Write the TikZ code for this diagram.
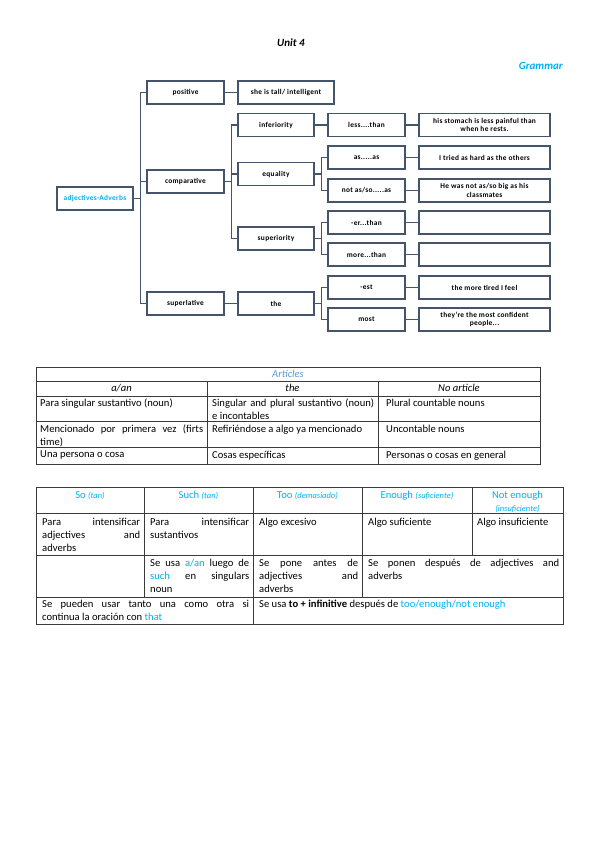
\documentclass[tikz,border=0pt]{standalone}
\usepackage{fontspec}
\setmainfont{Carlito}
\newfontfamily\sa[LetterSpace=4]{Carlito}
\definecolor{boxc}{HTML}{44546A}
\definecolor{cy}{HTML}{00B0F0}
\definecolor{ab}{HTML}{5B9BD5}
\definecolor{tline}{HTML}{3A3A3A}
\hyphenpenalty=10000
\exhyphenpenalty=10000
\begin{document}
\begin{tikzpicture}[x=1pt,y=-1pt,
  bx/.style={draw=boxc, line width=1.3pt, fill=white, minimum height=23pt, inner sep=1pt,
    align=center, font=\sa\bfseries\fontsize{7.4}{8.6}\selectfont},
  wa/.style={bx, minimum width=76pt},
  wb/.style={bx, minimum width=77pt},
  wc/.style={bx, minimum width=131pt},
  con/.style={draw=boxc, line width=1.3pt},
  tl/.style={draw=tline, line width=0.6pt},
  tx/.style={inner sep=0pt, anchor=north west, align=justify,
    font=\fontsize{10.6}{13}\selectfont},
  th/.style={inner sep=0pt, anchor=north, align=center, font=\fontsize{10.6}{12.5}\selectfont}
]
\useasboundingbox (0,0) rectangle (599,848);

% titles
\node[font=\fontsize{11}{13}\selectfont\bfseries\itshape] (unit) at (291,43) {Unit 4};
\node[anchor=east, inner sep=0pt, text=cy, font=\fontsize{11}{13}\selectfont\bfseries\itshape] (gram) at (563,66) {Grammar};

% diagram nodes
\node[wa, text=cy] (adj) at (95,198.5) {adjectives-Adverbs};
\node[wb] (pos) at (185.5,92.5) {positive};
\node[wb] (comp) at (185.5,181.5) {comparative};
\node[wb] (sup) at (185.5,303.5) {superlative};
\node[bx, minimum width=96pt] (tall) at (286,92.5) {she is tall/ intelligent};
\node[wa] (inf) at (276,125) {inferiority};
\node[wa] (eq) at (276,174) {equality};
\node[wa] (supy) at (276,238.5) {superiority};
\node[wa] (the) at (276,303.5) {the};
\node[wb] (less) at (366.5,125) {less....than};
\node[wb] (asas) at (366.5,157.5) {as.....as};
\node[wb] (notas) at (366.5,190.5) {not as/so.....as};
\node[wb] (er) at (366.5,222.5) {-er...than};
\node[wb] (more) at (366.5,254.5) {more...than};
\node[wb] (est) at (366.5,287.5) {-est};
\node[wb] (most) at (366.5,319.5) {most};
\node[wc] (his) at (484.5,125) {his stomach is less painful than\\when he rests.};
\node[wc] (tried) at (484.5,157.5) {I tried as hard as the others};
\node[wc] (big) at (484.5,190.5) {He was not as/so big as his\\classmates};
\node[wc] (e1) at (484.5,222.5) {};
\node[wc] (e2) at (484.5,254.5) {};
\node[wc] (tired) at (484.5,287.5) {the more tired I feel};
\node[wc] (conf) at (484.5,319.5) {they’re the most confident\\people...};

% connectors
\draw[con] (adj.east) -- ++(7,0) |- (pos.west);
\draw[con] (adj.east) -- ++(7,0) |- (comp.west);
\draw[con] (adj.east) -- ++(7,0) |- (sup.west);
\draw[con] (pos) -- (tall);
\draw[con] (comp.east) -- ++(7,0) |- (inf.west);
\draw[con] (comp.east) -- ++(7,0) |- (eq.west);
\draw[con] (comp.east) -- ++(7,0) |- (supy.west);
\draw[con] (sup) -- (the);
\draw[con] (inf) -- (less);
\draw[con] (eq.east) -- ++(7,0) |- (asas.west);
\draw[con] (eq.east) -- ++(7,0) |- (notas.west);
\draw[con] (supy.east) -- ++(7,0) |- (er.west);
\draw[con] (supy.east) -- ++(7,0) |- (more.west);
\draw[con] (the.east) -- ++(7,0) |- (est.west);
\draw[con] (the.east) -- ++(7,0) |- (most.west);
\draw[con] (less) -- (his);
\draw[con] (asas) -- (tried);
\draw[con] (notas) -- (big);
\draw[con] (er) -- (e1);
\draw[con] (more) -- (e2);
\draw[con] (est) -- (tired);
\draw[con] (most) -- (conf);

% Articles table
\draw[tl] (36,367) rectangle (540,464);
\draw[tl] (36,381) -- (540,381);
\draw[tl] (36,396) -- (540,396);
\draw[tl] (36,421) -- (540,421);
\draw[tl] (36,447) -- (540,447);
\draw[tl] (207,381) -- (207,464);
\draw[tl] (378,381) -- (378,464);
\node[th, text=ab, font=\fontsize{10.6}{12.5}\selectfont\itshape] (art) at (288,369.5) {Articles};
\node[th, font=\fontsize{10.6}{12.5}\selectfont\itshape] (h1) at (121.5,384) {a/an};
\node[th, font=\fontsize{10.6}{12.5}\selectfont\itshape] (h2) at (292.5,384) {the};
\node[th, font=\fontsize{10.6}{12.5}\selectfont\itshape] (h3) at (459,384) {No article};
\node[tx, text width=163pt] (a11) at (40,399) {Para singular sustantivo (noun)};
\node[tx, text width=162pt] (a12) at (212,399) {Singular and plural sustantivo (noun)\linebreak e incontables};
\node[tx, text width=150pt] (a13) at (386,399) {Plural countable nouns};
\node[tx, text width=163pt] (a21) at (40,424.5) {Mencionado por primera vez (firts\linebreak time)};
\node[tx, text width=162pt] (a22) at (212,424.5) {Refiriéndose a algo ya mencionado};
\node[tx, text width=150pt] (a23) at (386,424.5) {Uncontable nouns};
\node[tx, text width=163pt] (a31) at (40,450.5) {Una persona o cosa};
\node[tx, text width=162pt] (a32) at (212,450.5) {Cosas específicas};
\node[tx, text width=150pt] (a33) at (386,450.5) {Personas o cosas en general};

% second table
\draw[tl] (36,487) rectangle (563,624);
\draw[tl] (36,513) -- (563,513);
\draw[tl] (36,555) -- (563,555);
\draw[tl] (36,597) -- (563,597);
\draw[tl] (144,487) -- (144,597);
\draw[tl] (253,487) -- (253,624);
\draw[tl] (362,487) -- (362,597);
\draw[tl] (472,487) -- (472,555);
\node[th, text=cy] (s1) at (90,491) {So {\itshape\fontsize{8.5}{10}\selectfont (tan)}};
\node[th, text=cy] (s2) at (198.5,491) {Such {\itshape\fontsize{8.5}{10}\selectfont (tan)}};
\node[th, text=cy] (s3) at (307.5,491) {Too {\itshape\fontsize{8.5}{10}\selectfont (demasiado)}};
\node[th, text=cy] (s4) at (417,491) {Enough {\itshape\fontsize{8.5}{10}\selectfont (suficiente)}};
\node[th, text=cy] (s5) at (517.5,491) {Not enough\\{\itshape\fontsize{8.5}{10}\selectfont (insuficiente)}};
\node[tx, text width=98pt] (b11) at (42,517.5) {Para intensificar\linebreak adjectives and\linebreak adverbs};
\node[tx, text width=99pt] (b12) at (150,517.5) {Para intensificar\linebreak sustantivos};
\node[tx, text width=99pt] (b13) at (259,517.5) {Algo excesivo};
\node[tx, text width=100pt] (b14) at (368,517.5) {Algo suficiente};
\node[tx, text width=85pt] (b15) at (477,517.5) {Algo insuficiente};
\node[tx, text width=99pt] (b22) at (150,558.5) {Se usa \textcolor{cy}{a/an} luego de\linebreak \textcolor{cy}{such} en singulars\linebreak noun};
\node[tx, text width=99pt] (b23) at (259,558.5) {Se pone antes de\linebreak adjectives and\linebreak adverbs};
\node[tx, text width=191pt] (b24) at (368,558.5) {Se ponen después de adjectives and\linebreak adverbs};
\node[tx, text width=207pt] (b31) at (42,600) {Se pueden usar tanto una como otra si\linebreak continua la oración con \textcolor{cy}{that}};
\node[tx, text width=300pt] (b33) at (259,600) {Se usa \textbf{to + infinitive} después de \textcolor{cy}{too/enough/not enough}};
\end{tikzpicture}
\end{document}
